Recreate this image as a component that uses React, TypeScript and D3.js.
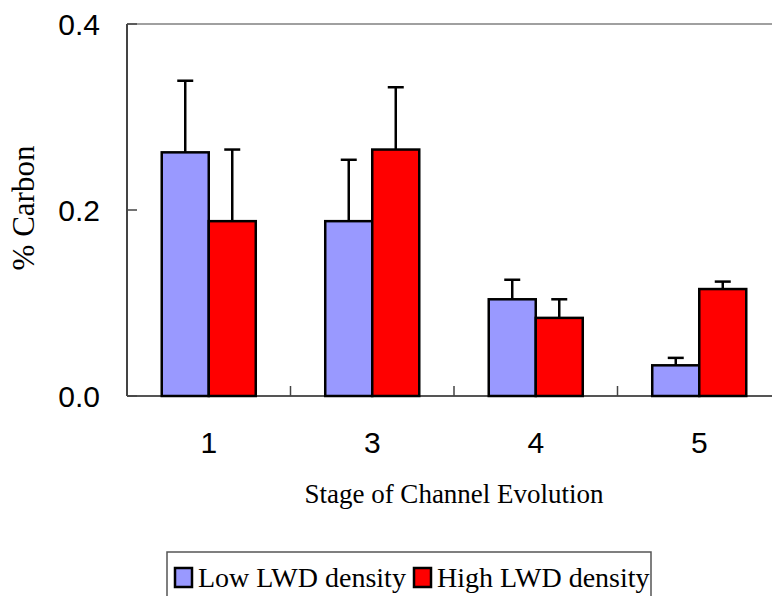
import React from "react";
import * as d3 from "d3";

const stages = ["1", "3", "4", "5"];
const series = ["Low LWD density", "High LWD density"];
const lowValues = [0.262, 0.188, 0.104, 0.033];
const lowErrors = [0.077, 0.066, 0.021, 0.008];
const highValues = [0.188, 0.265, 0.084, 0.115];
const highErrors = [0.077, 0.067, 0.020, 0.008];
const yTicks = [0, 0.2, 0.4];
const colors = ["#9999ff", "#ff0000"];

const W = 772;
const H = 596;
const margin = { top: 24, left: 127, bottom: 396, right: 781 };

export default function App() {
  const x = d3.scaleBand<string>().domain(stages).range([margin.left, margin.right]);
  const xSub = d3
    .scaleBand<string>()
    .domain(series)
    .range([0, x.bandwidth()])
    .paddingInner(0)
    .paddingOuter(0.739);
  const y = d3.scaleLinear().domain([0, 0.4]).range([margin.bottom, margin.top]);

  const rows = stages.map((s, i) => ({
    stage: s,
    vals: [
      { key: series[0], v: lowValues[i], e: lowErrors[i], c: colors[0] },
      { key: series[1], v: highValues[i], e: highErrors[i], c: colors[1] },
    ],
  }));

  return (
    <svg
      width={W}
      height={H}
      style={{ position: "absolute", left: 0, top: 0, background: "#fff" }}
    >
      {/* frame */}
      <line x1={margin.left} x2={W} y1={y(0.4)} y2={y(0.4)} stroke="#a0a0a0" strokeWidth={2} />
      <line x1={margin.left} x2={W} y1={y(0)} y2={y(0)} stroke="#555" strokeWidth={2} />
      <line x1={margin.left} x2={margin.left} y1={y(0.4)} y2={y(0)} stroke="#444" strokeWidth={2} />

      {/* y ticks */}
      {yTicks.map((t) => (
        <g key={t}>
          <line x1={margin.left} x2={margin.left + 10} y1={y(t)} y2={y(t)} stroke="#444" strokeWidth={1.5} />
          <text
            x={100}
            y={y(t) + 11}
            textAnchor="end"
            fontFamily="Liberation Sans, Arial, sans-serif"
            fontSize={30}
          >
            {t.toFixed(1)}
          </text>
        </g>
      ))}

      {/* category boundary ticks */}
      {stages.slice(1).map((s) => (
        <line
          key={s}
          x1={x(s)!}
          x2={x(s)!}
          y1={y(0)}
          y2={y(0) - 10}
          stroke="#444"
          strokeWidth={1.5}
        />
      ))}

      {/* bars */}
      {rows.map((r) => (
        <g key={r.stage} transform={`translate(${x(r.stage)},0)`}>
          {r.vals.map((d) => {
            const bx = xSub(d.key)!;
            const bw = xSub.bandwidth();
            const cx = bx + bw / 2;
            return (
              <g key={d.key}>
                <line x1={cx} x2={cx} y1={y(d.v)} y2={y(d.v + d.e)} stroke="#000" strokeWidth={2.5} />
                <line x1={cx - 8} x2={cx + 8} y1={y(d.v + d.e)} y2={y(d.v + d.e)} stroke="#000" strokeWidth={2.5} />
                <rect
                  x={bx}
                  y={y(d.v)}
                  width={bw}
                  height={y(0) - y(d.v)}
                  fill={d.c}
                  stroke="#000"
                  strokeWidth={2.5}
                />
              </g>
            );
          })}
          <text
            x={x.bandwidth() / 2}
            y={453}
            textAnchor="middle"
            fontFamily="Liberation Sans, Arial, sans-serif"
            fontSize={30}
          >
            {r.stage}
          </text>
        </g>
      ))}

      {/* axis titles */}
      <text
        x={(margin.left + margin.right) / 2}
        y={503}
        textAnchor="middle"
        fontFamily="Liberation Serif, Times New Roman, serif"
        fontSize={27}
      >
        Stage of Channel Evolution
      </text>
      <text
        transform={`translate(34,${208}) rotate(-90)`}
        textAnchor="middle"
        fontFamily="Liberation Serif, Times New Roman, serif"
        fontSize={31}
      >
        % Carbon
      </text>

      {/* legend */}
      <rect x={167} y={552} width={484} height={60} fill="#fff" stroke="#555" strokeWidth={1.5} />
      <rect x={175} y={568} width={17} height={19} fill={colors[0]} stroke="#000" strokeWidth={2.5} />
      <text x={198} y={587} fontFamily="Liberation Serif, Times New Roman, serif" fontSize={28}>
        {series[0]}
      </text>
      <rect x={414} y={568} width={17} height={19} fill={colors[1]} stroke="#000" strokeWidth={2.5} />
      <text x={437} y={587} fontFamily="Liberation Serif, Times New Roman, serif" fontSize={28}>
        {series[1]}
      </text>
    </svg>
  );
}
